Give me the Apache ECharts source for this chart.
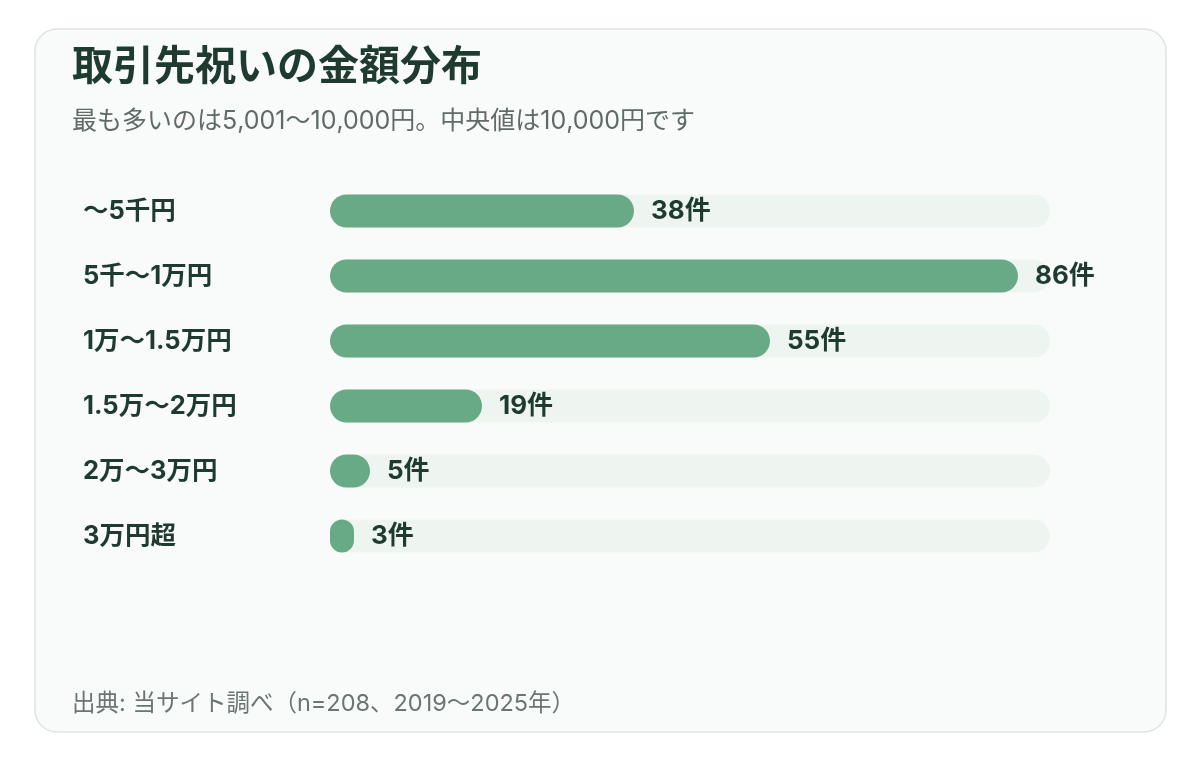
<!DOCTYPE html>
<html>
<head>
<meta charset="utf-8">
<script src="https://cdn.jsdelivr.net/npm/echarts@6/dist/echarts.min.js"></script>
<style>
  html, body { margin: 0; padding: 0; background: #fff; }
  #chart { width: 1200px; height: 760px; }
</style>
</head>
<body>
<div id="chart"></div>
<script>
const categories = ['〜5千円', '5千〜1万円', '1万〜1.5万円', '1.5万〜2万円', '2万〜3万円', '3万円超'];
const counts = [38, 86, 55, 19, 5, 3];
const axisMax = 90;

const font = 'Inter, "Noto Sans CJK JP", sans-serif';
const dark = '#1f3b30';

const myChart = echarts.init(document.getElementById('chart'));
myChart.setOption({
  textStyle: { fontFamily: font },
  graphic: [
    {
      type: 'rect',
      z: -10,
      shape: { x: 35, y: 29, width: 1131, height: 703, r: 22 },
      style: { fill: '#f9fbfa', stroke: '#dce5e1', lineWidth: 1.5 }
    }
  ],
  title: [
    {
      text: '取引先祝いの金額分布',
      left: 72,
      top: 47,
      padding: 0,
      textStyle: { fontSize: 41, fontWeight: 'bold', color: dark, fontFamily: font }
    },
    {
      text: '最も多いのは5,001〜10,000円。中央値は10,000円です',
      left: 72,
      top: 109,
      padding: 0,
      textStyle: { fontSize: 25, fontWeight: 'normal', color: '#5f6b66', fontFamily: font }
    },
    {
      text: '出典: 当サイト調べ（n=208、2019〜2025年）',
      left: 72,
      top: 692,
      padding: 0,
      textStyle: { fontSize: 23.5, fontWeight: 'normal', color: '#6b7671', fontFamily: font }
    }
  ],
  grid: {
    left: 330,
    right: 150,
    top: 178.5,
    height: 390
  },
  xAxis: {
    type: 'value',
    min: 0,
    max: axisMax,
    show: false
  },
  yAxis: {
    type: 'category',
    inverse: true,
    data: categories,
    axisLine: { show: false },
    axisTick: { show: false },
    axisLabel: {
      align: 'left',
      margin: 247,
      fontSize: 25.5,
      fontWeight: 'bold',
      color: dark,
      fontFamily: font
    }
  },
  series: [
    {
      type: 'bar',
      data: counts,
      barWidth: 33,
      showBackground: true,
      backgroundStyle: { color: '#eef4f0', borderRadius: 16.5 },
      itemStyle: { color: '#68a986', borderRadius: 16.5 },
      label: {
        show: true,
        position: 'right',
        distance: 17,
        formatter: '{c}件',
        fontSize: 26,
        fontWeight: 'bold',
        color: dark,
        fontFamily: font
      }
    }
  ]
});
</script>
</body>
</html>
